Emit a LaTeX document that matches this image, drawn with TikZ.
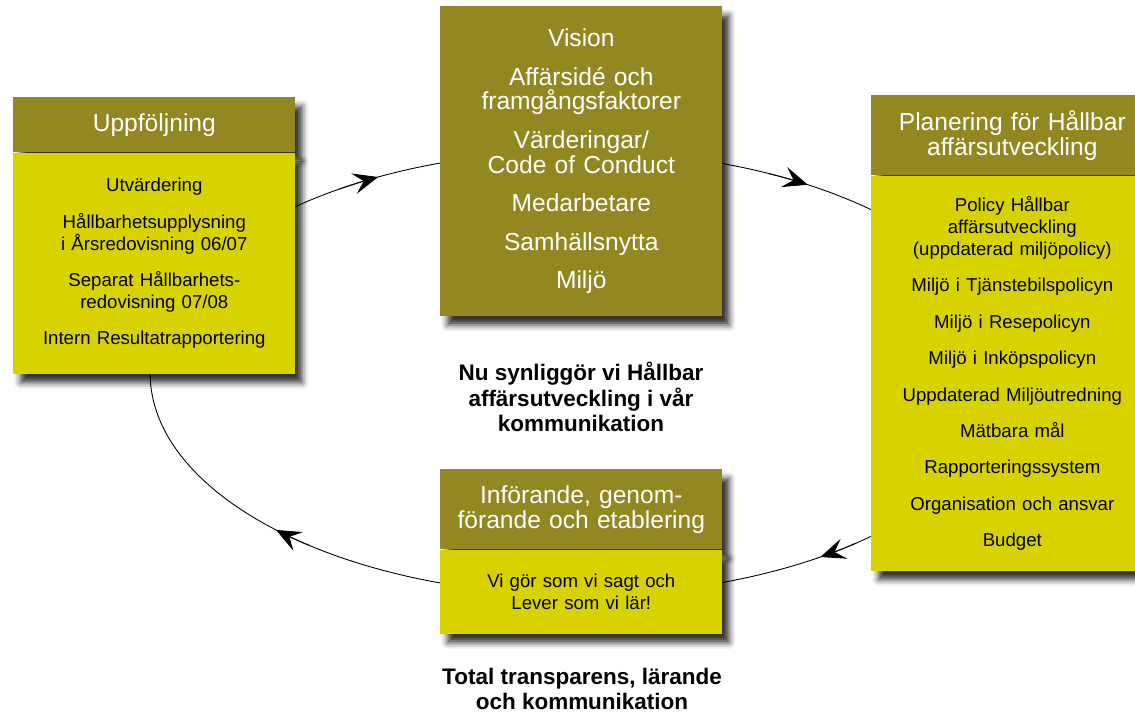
\documentclass[tikz,border=0pt]{standalone}
\usepackage{fontspec}
\setmainfont{Liberation Sans}
\usetikzlibrary{positioning,arrows.meta,shadows.blur}

\definecolor{olive}{RGB}{146,135,33}
\definecolor{lime}{RGB}{216,211,0}

\begin{document}
\begin{tikzpicture}[
    x=0.02cm, y=0.02cm,
    shade/.style={blur shadow={shadow xshift=4pt, shadow yshift=-5pt, shadow blur radius=3.5pt, shadow opacity=80}},
    head/.style={rectangle, fill=olive, text=white, minimum width=5.64cm, text width=5.3cm, inner xsep=0.17cm, inner ysep=0pt, align=center, font=\fontsize{14}{14.2}\selectfont, shade},
    body/.style={rectangle, fill=lime, text=black, minimum width=5.64cm, text width=5.3cm, inner xsep=0.17cm, inner ysep=0pt, align=center, font=\fontsize{10.6}{12.5}\selectfont, shade},
    caption/.style={align=center, inner sep=0pt, font=\bfseries\fontsize{12.8}{14.7}\selectfont},
    arrow/.style={-{Stealth[length=0.5cm, width=0.42cm, inset=0.2cm]}, line width=0.5pt}
]
    \useasboundingbox (0,0) rectangle (1135,-715);

    % Cycle
    \coordinate (C) at (580,-373);
    \draw[line width=0.5pt] (C) ellipse [x radius=8.6cm, y radius=4.44cm];
    \foreach \t in {118,58,-56,-135}
        \draw[arrow, shift={(C)}] (\t+6:8.6cm and 4.44cm) arc[start angle=\t+6, end angle=\t, x radius=8.6cm, y radius=4.44cm];

    % Nodes
    \node[head, anchor=north west, minimum height=1.1cm] (uppf) at (13,-97) {Uppföljning};
    \node[body, below=0pt of uppf, minimum height=4.42cm] (uppfbody) {Utvärdering\\[8.2pt]
        Hållbarhetsupplysning\\ i Årsredovisning 06/07\\[8.2pt]
        Separat Hållbarhets-\\ redovisning 07/08\\[8.2pt]
        Intern Resultatrapportering};

    \node[head, anchor=north west, minimum height=6.2cm] (vision) at (440,-6) {Vision\\[7.7pt]
        Affärsidé och\\ framgångsfaktorer\\[7.7pt]
        Värderingar/\\ Code of Conduct\\[7.7pt]
        Medarbetare\\[7.7pt]
        Samhällsnytta\\[7.7pt]
        Miljö};

    \node[head, anchor=north west, minimum height=1.6cm] (plan) at (871,-95) {Planering för Hållbar\\ affärsutveckling};
    \node[body, below=0pt of plan, minimum height=7.9cm] (planbody) {Policy Hållbar\\ affärsutveckling\\ (uppdaterad miljöpolicy)\\[8.2pt]
        Miljö i Tjänstebilspolicyn\\[8.2pt]
        Miljö i Resepolicyn\\[8.2pt]
        Miljö i Inköpspolicyn\\[8.2pt]
        Uppdaterad Miljöutredning\\[8.2pt]
        Mätbara mål\\[8.2pt]
        Rapporteringssystem\\[8.2pt]
        Organisation och ansvar\\[8.2pt]
        Budget};

    \node[head, anchor=north west, minimum height=1.6cm] (inf) at (440,-469) {Införande, genom-\\ förande och etablering};
    \node[body, below=0pt of inf, minimum height=1.68cm] (infbody) {Vi gör som vi sagt och\\ Lever som vi lär!};

    % Captions
    \node[caption] (nu) at (581,-397) {Nu synliggör vi Hållbar\\ affärsutveckling i vår\\ kommunikation};
    \node[caption] (total) at (582,-689) {Total transparens, lärande\\ och kommunikation};
\end{tikzpicture}
\end{document}
